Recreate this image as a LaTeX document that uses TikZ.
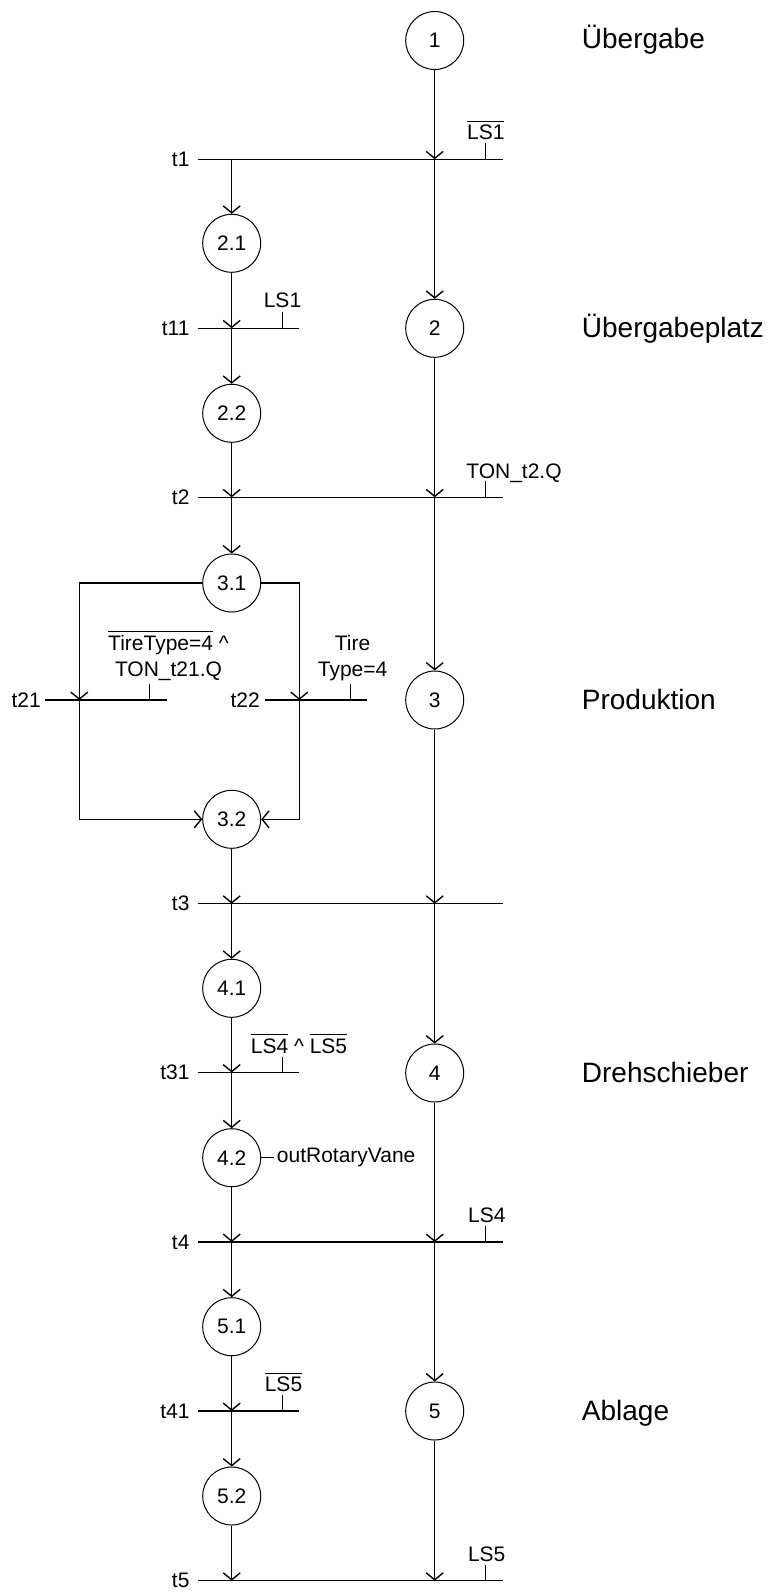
\documentclass[tikz,border=0pt]{standalone}
\usepackage{fontspec}
\setmainfont{Liberation Sans}
\usetikzlibrary{arrows.meta}
\newcommand{\fsSmall}{\fontsize{21}{25}\selectfont}
\newcommand{\fsTwo}{\fontsize{21}{26}\selectfont}
\newcommand{\fsBig}{\fontsize{28}{32}\selectfont}
\newcommand{\ovl}[1]{\leavevmode\vbox{\hrule height 1pt\kern 3pt\hbox{#1}}}
\begin{document}
\begin{tikzpicture}[x=1pt,y=-1pt,
  stepnode/.style={circle,draw,line width=1pt,minimum size=58pt,inner sep=0pt,font=\fsSmall},
  arr/.style={line width=1.4pt,-{Straight Barb[length=7pt,width=17pt]}},
  bar/.style={line width=1.4pt},
  tick/.style={line width=1.1pt},
  tlabel/.style={anchor=east,inner sep=0pt,font=\fsSmall},
  cond/.style={anchor=base,inner sep=0pt,font=\fsSmall},
  twocond/.style={anchor=south,inner sep=0pt,align=center,font=\fsTwo},
  phase/.style={anchor=base west,inner sep=0pt,font=\fsBig}]
\useasboundingbox (0,0) rectangle (771,1592);

% ---------- steps ----------
\node[stepnode] (s1)  at (434.7,40.5)   {1};
\node[stepnode] (s21) at (231.7,243.3)  {2.1};
\node[stepnode] (s2)  at (434.7,328.3)  {2};
\node[stepnode] (s22) at (231.7,413.3)  {2.2};
\node[stepnode] (s31) at (231.7,583)    {3.1};
\node[stepnode] (s3)  at (434.7,700)    {3};
\node[stepnode] (s32) at (231.7,819.3)  {3.2};
\node[stepnode] (s41) at (231.7,988.3)  {4.1};
\node[stepnode] (s4)  at (434.7,1073)   {4};
\node[stepnode] (s42) at (231.7,1157.7) {4.2};
\node[stepnode] (s51) at (231.7,1326.7) {5.1};
\node[stepnode] (s5)  at (434.7,1411)   {5};
\node[stepnode] (s52) at (231.7,1496)   {5.2};

% ---------- phase labels ----------
\node[phase] (p1) at (581.7,49)     {Übergabe};
\node[phase] (p2) at (581.7,337.5)  {Übergabeplatz};
\node[phase] (p3) at (581.7,709.5)  {Produktion};
\node[phase] (p4) at (581.7,1082.5) {Drehschieber};
\node[phase] (p5) at (581.7,1420)   {Ablage};

% ---------- transition t1 ----------
\coordinate (t1a) at (197.7,159.3); \coordinate (t1b) at (502.7,159.3);
\coordinate (t1L) at (231.7,159.3); \coordinate (t1R) at (434.7,159.3);
\coordinate (t1k) at (485.5,159.3);
\draw[bar] (t1a) -- (t1b);
\draw[tick] (t1k) -- ++(0,-16);
\node[tlabel] (lt1) at ([xshift=-8pt]t1a) {t1};
\node[cond] (c1) at (485.8,139.5) {\ovl{LS1}};

% ---------- transition t11 ----------
\coordinate (t11a) at (197.7,328.3); \coordinate (t11b) at (299,328.3);
\coordinate (t11L) at (231.7,328.3); \coordinate (t11k) at (282.7,328.3);
\draw[bar] (t11a) -- (t11b);
\draw[tick] (t11k) -- ++(0,-16);
\node[tlabel] (lt11) at ([xshift=-8pt]t11a) {t11};
\node[cond] (c11) at (282.5,307.7) {LS1};

% ---------- transition t2 ----------
\coordinate (t2a) at (197.7,497.3); \coordinate (t2b) at (502.7,497.3);
\coordinate (t2L) at (231.7,497.3); \coordinate (t2R) at (434.7,497.3);
\coordinate (t2k) at (485.5,497.3);
\draw[bar] (t2a) -- (t2b);
\draw[tick] (t2k) -- ++(0,-16);
\node[tlabel] (lt2) at ([xshift=-8pt]t2a) {t2};
\node[cond] (c2) at (514,478) {TON\_t2.Q};

% ---------- transitions t21 / t22 ----------
\coordinate (t21a) at (45,700); \coordinate (t21b) at (166.7,700);
\coordinate (t21x) at (79.3,700); \coordinate (t21k) at (149.3,700);
\draw[bar] (t21a) -- (t21b);
\draw[tick] (t21k) -- ++(0,-16);
\node[tlabel] (lt21) at ([xshift=-4pt]t21a) {t21};
\node[twocond] (c21) at (168.5,681) {\ovl{TireType=4} \textasciicircum\\TON\_t21.Q};

\coordinate (t22a) at (265,700); \coordinate (t22b) at (367,700);
\coordinate (t22x) at (299.3,700); \coordinate (t22k) at (350.7,700);
\draw[bar] (t22a) -- (t22b);
\draw[tick] (t22k) -- ++(0,-16);
\node[tlabel] (lt22) at ([xshift=-5pt]t22a) {t22};
\node[twocond] (c22) at (352.6,681) {Tire\\Type=4};

% ---------- transition t3 ----------
\coordinate (t3a) at (197.7,903.7); \coordinate (t3b) at (502.7,903.7);
\coordinate (t3L) at (231.7,903.7); \coordinate (t3R) at (434.7,903.7);
\draw[bar] (t3a) -- (t3b);
\node[tlabel] (lt3) at ([xshift=-8pt]t3a) {t3};

% ---------- transition t31 ----------
\coordinate (t31a) at (197.7,1072.5); \coordinate (t31b) at (299,1072.5);
\coordinate (t31L) at (231.7,1072.5); \coordinate (t31k) at (282.7,1072.5);
\draw[bar] (t31a) -- (t31b);
\draw[tick] (t31k) -- ++(0,-16);
\node[tlabel] (lt31) at ([xshift=-8pt]t31a) {t31};
\node[cond] (c31) at (299,1053) {\ovl{LS4} \textasciicircum{} \ovl{LS5}};

% ---------- transition t4 ----------
\coordinate (t4a) at (197.7,1242); \coordinate (t4b) at (502.7,1242);
\coordinate (t4L) at (231.7,1242); \coordinate (t4R) at (434.7,1242);
\coordinate (t4k) at (485.5,1242);
\draw[bar] (t4a) -- (t4b);
\draw[tick] (t4k) -- ++(0,-16);
\node[tlabel] (lt4) at ([xshift=-8pt]t4a) {t4};
\node[cond] (c4) at (486.8,1222.7) {LS4};

% ---------- transition t41 ----------
\coordinate (t41a) at (197.7,1411); \coordinate (t41b) at (299,1411);
\coordinate (t41L) at (231.7,1411); \coordinate (t41k) at (282.7,1411);
\draw[bar] (t41a) -- (t41b);
\draw[tick] (t41k) -- ++(0,-16);
\node[tlabel] (lt41) at ([xshift=-8pt]t41a) {t41};
\node[cond] (c41) at (283.5,1391.7) {\ovl{LS5}};

% ---------- transition t5 ----------
\coordinate (t5a) at (197.7,1580.7); \coordinate (t5b) at (502.7,1580.7);
\coordinate (t5L) at (231.7,1580.7); \coordinate (t5R) at (434.7,1580.7);
\coordinate (t5k) at (485.5,1580.7);
\draw[bar] (t5a) -- (t5b);
\draw[tick] (t5k) -- ++(0,-16);
\node[tlabel] (lt5) at ([xshift=-8pt]t5a) {t5};
\node[cond] (c5) at (486.7,1561.7) {LS5};

% ---------- action ----------
\node[anchor=west,inner sep=0pt,font=\fsSmall] (act) at (276.7,1157.7) {outRotaryVane};
\draw[tick] (s42.east) -- ([xshift=-2.4pt]act.west);

% ---------- connectors ----------
\draw[arr] (s1) -- (t1R);
\draw[arr] (t1R) -- (s2);
\draw[arr] (t1L) -- (s21);
\draw[arr] (s21) -- (t11L);
\draw[arr] (t11L) -- (s22);
\draw[arr] (s22) -- (t2L);
\draw[arr] (s2) -- (t2R);
\draw[arr] (t2L) -- (s31);
\draw[arr] (t2R) -- (s3);
\draw[arr] (s31.west) -| (t21x);
\draw[arr] (s31.east) -| (t22x);
\draw[arr] (t21x) |- (s32.west);
\draw[arr] (t22x) |- (s32.east);
\draw[arr] (s32) -- (t3L);
\draw[arr] (s3) -- (t3R);
\draw[arr] (t3L) -- (s41);
\draw[arr] (t3R) -- (s4);
\draw[arr] (s41) -- (t31L);
\draw[arr] (t31L) -- (s42);
\draw[arr] (s42) -- (t4L);
\draw[arr] (s4) -- (t4R);
\draw[arr] (t4L) -- (s51);
\draw[arr] (t4R) -- (s5);
\draw[arr] (s51) -- (t41L);
\draw[arr] (t41L) -- (s52);
\draw[arr] (s52) -- (t5L);
\draw[arr] (s5) -- (t5R);
\end{tikzpicture}
\end{document}
